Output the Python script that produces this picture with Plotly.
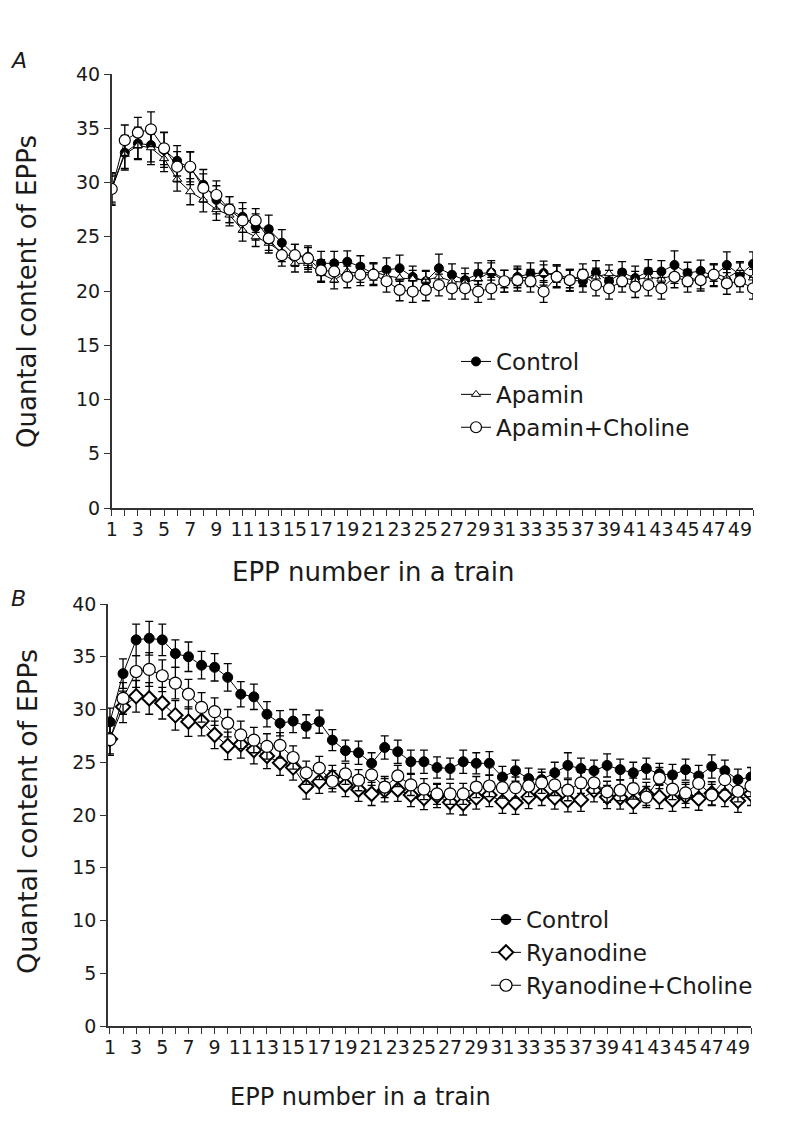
import plotly.graph_objects as go

epp = list(range(1, 51))

# Panel A
a_control = [29.4, 32.75, 33.6, 33.45, 33.0, 32.0, 31.3, 29.8, 28.4, 27.5, 26.85, 25.9, 25.7, 24.45, 23.3, 23.15,
             22.55, 22.55, 22.7, 22.25, 21.6, 21.95, 22.1, 21.3, 20.9, 22.1, 21.5, 21.0, 21.6, 21.7, 20.9, 21.3,
             21.6, 21.65, 21.4, 21.0, 20.9, 21.7, 20.9, 21.7, 21.2, 21.8, 21.8, 22.4, 21.65, 21.85, 21.4, 22.4,
             21.5, 22.5]
a_control_err = [1.5, 1.6, 1.5, 1.8, 1.6, 1.4, 1.5, 1.4, 1.3, 1.2, 1.3, 1.2, 1.3, 1.2, 1.0, 1.0, 1.1, 1.1, 1.0, 1.0,
                 1.0, 1.1, 1.2, 1.0, 1.0, 1.3, 1.0, 1.1, 1.0, 1.1, 1.0, 1.0, 1.0, 1.1, 1.0, 1.0, 1.0, 1.1, 1.0, 1.0,
                 1.1, 1.1, 1.0, 1.3, 1.0, 1.0, 1.0, 1.2, 1.1, 1.1]
a_apamin = [29.4, 32.6, 33.4, 33.2, 32.2, 30.3, 29.15, 28.4, 27.5, 27.0, 25.6, 25.0, 24.4, 23.6, 22.55, 22.55,
            21.6, 21.0, 21.8, 21.6, 21.8, 21.4, 21.2, 21.1, 21.0, 21.3, 20.9, 20.8, 21.1, 21.8, 21.1, 21.3,
            21.2, 21.6, 21.6, 21.1, 21.2, 21.3, 21.6, 21.2, 21.0, 21.3, 21.1, 21.5, 21.2, 21.0, 21.7, 21.2,
            21.9, 21.2]
a_apamin_err = [1.2, 1.3, 1.2, 1.3, 1.2, 1.1, 1.2, 1.1, 1.0, 1.0, 1.0, 0.9, 0.9, 0.9, 0.8, 0.8, 0.8, 0.8, 0.8, 0.8,
                0.8, 0.8, 0.8, 0.8, 0.8, 0.8, 0.8, 0.8, 0.8, 0.8, 0.8, 0.8, 0.8, 0.8, 0.8, 0.8, 0.8, 0.8, 0.8, 0.8,
                0.8, 0.8, 0.8, 0.8, 0.8, 0.8, 0.8, 0.8, 0.8, 0.8]
a_apacho = [29.4, 33.9, 34.6, 34.9, 33.15, 31.45, 31.45, 29.5, 28.85, 27.5, 26.5, 26.5, 24.85, 23.3, 23.3, 23.0,
            21.9, 21.8, 21.3, 21.5, 21.5, 20.9, 20.1, 19.95, 20.1, 20.55, 20.25, 20.25, 19.95, 20.25, 20.9, 21.0,
            20.9, 19.95, 21.3, 21.0, 21.5, 20.55, 20.25, 20.9, 20.4, 20.55, 20.25, 21.3, 20.9, 21.0, 21.5, 20.7,
            20.9, 20.25]
a_apacho_err = [1.4, 1.4, 1.4, 1.6, 1.5, 1.4, 1.4, 1.3, 1.3, 1.2, 1.1, 1.1, 1.1, 1.0, 1.0, 1.0, 1.0, 1.0, 1.0, 1.0,
                1.0, 1.0, 1.0, 1.0, 1.0, 1.0, 1.0, 1.0, 1.0, 1.0, 1.0, 1.0, 1.0, 1.0, 1.0, 1.0, 1.0, 1.0, 1.0, 1.0,
                1.0, 1.0, 1.0, 1.0, 1.0, 1.0, 1.0, 1.0, 1.0, 1.0]

# Panel B
b_control = [28.83, 33.4, 36.6, 36.75, 36.6, 35.3, 35.0, 34.2, 34.0, 33.05, 31.45, 31.2, 29.55, 28.7, 28.9, 28.4,
             28.85, 27.1, 26.1, 25.9, 24.9, 26.4, 26.0, 25.05, 25.05, 24.5, 24.4, 25.05, 24.9, 24.9, 23.6, 24.2,
             23.45, 23.35, 24.0, 24.7, 24.4, 24.2, 24.7, 24.3, 24.0, 24.4, 23.9, 23.8, 24.3, 23.7, 24.6, 24.2,
             23.35, 23.6]
b_control_err = [1.3, 1.4, 1.5, 1.6, 1.5, 1.3, 1.4, 1.3, 1.3, 1.3, 1.2, 1.2, 1.2, 1.2, 1.1, 1.1, 1.1, 1.0, 1.0, 1.1,
                 1.0, 1.1, 1.1, 1.1, 1.1, 1.0, 1.0, 1.1, 1.0, 1.1, 1.0, 1.0, 1.0, 1.0, 1.0, 1.2, 1.0, 1.0, 1.1, 1.0,
                 1.0, 1.0, 1.0, 1.0, 1.0, 1.0, 1.1, 1.0, 1.0, 0.9]
b_ryan = [27.2, 30.25, 31.25, 31.05, 30.6, 29.45, 28.85, 28.9, 27.6, 26.55, 26.7, 26.15, 25.6, 24.95, 24.5, 22.7,
          23.15, 23.6, 22.85, 22.4, 22.0, 22.35, 22.4, 21.9, 21.6, 21.8, 21.2, 21.1, 21.65, 21.9, 21.25, 21.15,
          21.7, 22.0, 21.65, 21.4, 21.45, 22.35, 21.7, 21.65, 21.25, 22.0, 21.7, 21.45, 21.8, 21.55, 22.05, 21.9,
          21.35, 22.0]
b_ryan_err = [1.4, 1.5, 1.5, 1.5, 1.5, 1.4, 1.4, 1.4, 1.3, 1.3, 1.3, 1.3, 1.2, 1.2, 1.2, 1.2, 1.1, 1.1, 1.1, 1.1,
              1.1, 1.1, 1.1, 1.1, 1.1, 1.1, 1.1, 1.1, 1.1, 1.1, 1.1, 1.1, 1.1, 1.1, 1.1, 1.1, 1.1, 1.1, 1.1, 1.1,
              1.1, 1.1, 1.1, 1.1, 1.1, 1.1, 1.1, 1.1, 1.1, 1.1]
b_ryancho = [27.15, 31.05, 33.6, 33.8, 33.2, 32.5, 31.45, 30.2, 29.8, 28.7, 27.6, 27.1, 26.5, 26.6, 25.45, 24.0,
             24.45, 23.2, 23.9, 23.3, 23.8, 22.65, 23.7, 22.85, 22.45, 22.0, 22.0, 22.0, 22.65, 22.75, 22.6, 22.6,
             22.75, 23.05, 22.85, 22.35, 23.05, 23.05, 22.2, 22.35, 22.5, 21.7, 23.5, 22.45, 22.1, 23.0, 21.9, 23.35,
             22.25, 22.75]
b_ryancho_err = [1.5, 1.5, 1.5, 1.6, 1.5, 1.5, 1.4, 1.4, 1.3, 1.3, 1.3, 1.2, 1.2, 1.2, 1.1, 1.1, 1.1, 1.0, 1.0, 1.0,
                 1.0, 1.0, 1.0, 1.0, 1.0, 1.0, 1.0, 1.0, 1.0, 1.0, 1.0, 1.0, 1.0, 1.0, 1.0, 1.0, 1.0, 1.0, 1.0, 1.0,
                 1.0, 1.0, 1.0, 1.0, 1.0, 1.0, 1.0, 1.0, 1.0, 1.0]

W, H = 785, 1139
FONT = "DejaVu Sans"
INK = "#1a1a1a"


def px_x(p):
    return p / W


def px_y(p):
    return 1 - p / H


def series(x, y, err, name, symbol, size, fill, lw, xa, ya, legend):
    return go.Scatter(
        x=x, y=y, name=name, mode="lines+markers", xaxis=xa, yaxis=ya, legend=legend,
        line=dict(color="black", width=1),
        marker=dict(symbol=symbol, size=size, color=fill, line=dict(color="black", width=lw)),
        error_y=dict(type="data", array=err, visible=True, color="black", thickness=1.3, width=4),
    )


fig = go.Figure()
fig.add_trace(series(epp, a_control, a_control_err, "Control", "circle", 9, "black", 1, "x", "y", "legend"))
fig.add_trace(series(epp, a_apamin, a_apamin_err, "Apamin", "triangle-up", 8, "white", 1, "x", "y", "legend"))
fig.add_trace(series(epp, a_apacho, a_apacho_err, "Apamin+Choline", "circle", 11, "white", 1.2, "x", "y", "legend"))
fig.add_trace(series(epp, b_control, b_control_err, "Control", "circle", 10, "black", 1, "x2", "y2", "legend2"))
fig.add_trace(series(epp, b_ryan, b_ryan_err, "Ryanodine", "diamond", 11, "white", 2, "x2", "y2", "legend2"))
fig.add_trace(series(epp, b_ryancho, b_ryancho_err, "Ryanodine+Choline", "circle", 12, "white", 1.2, "x2", "y2", "legend2"))

xcommon = dict(
    tickmode="linear", tick0=1, dtick=2, ticks="outside", ticklen=6, tickwidth=1.2, tickcolor="#333",
    minor=dict(dtick=1, tick0=1, ticks="outside", ticklen=6, tickwidth=1.2, tickcolor="#333"),
    showline=True, linecolor="#333", linewidth=1.5, showgrid=False, zeroline=False, tickangle=0,
    tickfont=dict(family=FONT, size=19, color=INK), automargin=False, ticklabelstandoff=-3,
)
ycommon = dict(
    range=[0, 40], tickmode="linear", tick0=0, dtick=5, ticks="outside", ticklen=6, tickwidth=1.2,
    tickcolor="#333", showline=True, linecolor="#333", linewidth=1.5, showgrid=False, zeroline=False,
    tickfont=dict(family=FONT, size=19, color=INK), automargin=False,
)

fig.update_layout(
    width=W, height=H, margin=dict(l=0, r=0, t=0, b=0),
    paper_bgcolor="white", plot_bgcolor="white",
    font=dict(family=FONT, color=INK),
    xaxis=dict(xcommon, domain=[px_x(111.7), px_x(753)], range=[1, 50], anchor="y"),
    yaxis=dict(ycommon, domain=[px_y(508), px_y(74)], anchor="x"),
    xaxis2=dict(xcommon, domain=[px_x(108), px_x(751)], range=[0.85, 50], anchor="y2"),
    yaxis2=dict(ycommon, domain=[px_y(1026), px_y(604)], anchor="x2"),
    legend=dict(x=px_x(456), y=px_y(340), xanchor="left", yanchor="top", bgcolor="rgba(0,0,0,0)",
                font=dict(family=FONT, size=23, color=INK), itemwidth=30, tracegroupgap=0),
    legend2=dict(x=px_x(486), y=px_y(898), xanchor="left", yanchor="top", bgcolor="rgba(0,0,0,0)",
                 font=dict(family=FONT, size=23, color=INK), itemwidth=30, tracegroupgap=0),
    showlegend=True,
)

ann = [
    dict(text="<i>A</i>", x=px_x(18), y=px_y(60), size=22),
    dict(text="<i>B</i>", x=px_x(18), y=px_y(598), size=22),
    dict(text="EPP number in a train", x=px_x(373), y=px_y(572), size=26),
    dict(text="EPP number in a train", x=px_x(360), y=px_y(1097), size=24),
]
for a in ann:
    fig.add_annotation(text=a["text"], x=a["x"], y=a["y"], xref="paper", yref="paper",
                       xanchor="center", yanchor="middle", showarrow=False,
                       font=dict(family=FONT, size=a["size"], color=INK))
for yc, sz in ((292, 26), (812, 27)):
    fig.add_annotation(text="Quantal content of EPPs", x=px_x(27), y=px_y(yc), xref="paper", yref="paper",
                       xanchor="center", yanchor="middle", textangle=-90, showarrow=False,
                       font=dict(family=FONT, size=sz, color=INK))

fig.write_html("out.html", config={"displayModeBar": False},
               post_script="document.body.style.margin='0px';document.body.style.overflow='hidden';")
